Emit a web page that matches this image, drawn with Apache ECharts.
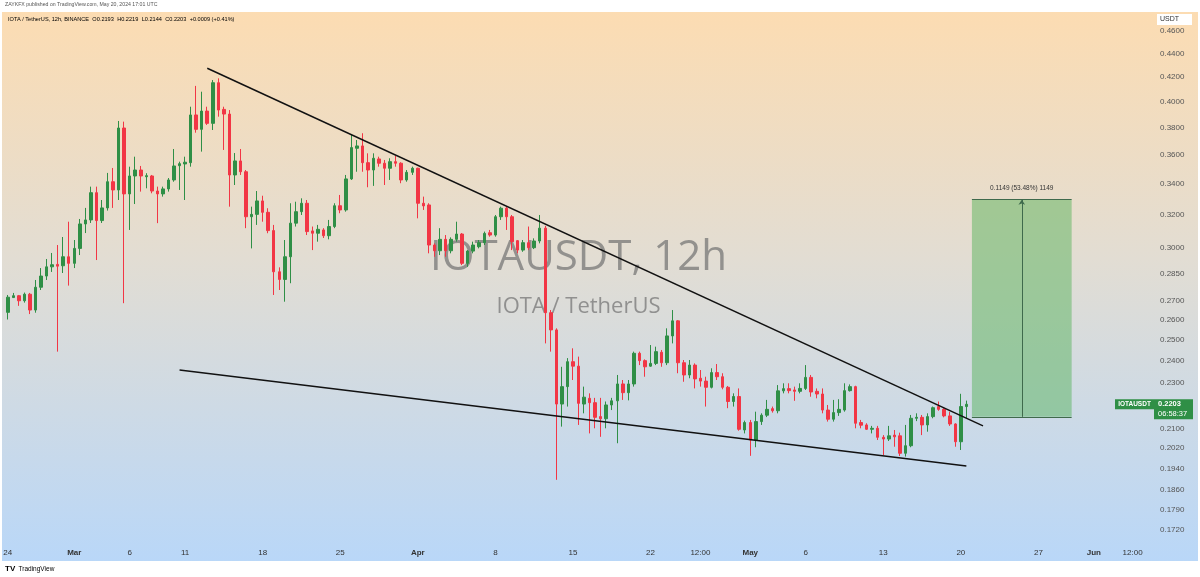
<!DOCTYPE html>
<html><head><meta charset="utf-8">
<script src="https://cdn.jsdelivr.net/npm/echarts@6/dist/echarts.min.js"></script>
<style>html,body{margin:0;padding:0;background:#fff}#c{width:1200px;height:577px}</style>
</head><body><div id="c"></div>
<script>
// ---- data (12h candles, IOTA/USDT, Binance) ----
const firstCandleUTC = Date.UTC(2024, 1, 24, 0, 0); // Feb 24 2024 00:00
const slotCount = 207; // candles + empty future slots up to early June
const open = [.2641,.2719,.2729,.2702,.2737,.2653,.2775,.2837,.2889,.2903,.2895,.2947,.2909,.2996,.3144,.3169,.3344,.3165,.3245,.3417,.3362,.3799,.3336,.3456,.3497,.3451,.3456,.3355,.3336,.3369,.3429,.3527,.3539,.3548,.3898,.3789,.3928,.3834,.4154,.3941,.3905,.3463,.3560,.3485,.3189,.3204,.3290,.3217,.3103,.2861,.2818,.2947,.3149,.3221,.3275,.3101,.3087,.3107,.3072,.3128,.3259,.3232,.3436,.3650,.3667,.3548,.3497,.3574,.3544,.3509,.3555,.3544,.3429,.3481,.3509,.3275,.3264,.3016,.2982,.3050,.2982,.3050,.3082,.2909,.2980,.3006,.3030,.3090,.3076,.3189,.3243,.3189,.3042,.2986,.3030,.3000,.3040,.3118,.2639,.2551,.2204,.2281,.2396,.2375,.2204,.2229,.2210,.2150,.2141,.2200,.2218,.2293,.2254,.2293,.2436,.2401,.2375,.2388,.2441,.2391,.2521,.2597,.2391,.2334,.2380,.2319,.2306,.2278,.2345,.2326,.2278,.2215,.2237,.2094,.2125,.2053,.2129,.2156,.2184,.2175,.2262,.2272,.2266,.2260,.2273,.2323,.2260,.2248,.2178,.2139,.2167,.2178,.2263,.2281,.2125,.2115,.2097,.2101,.2064,.2057,.2073,.2070,.2000,.2030,.2143,.2147,.2115,.2150,.2193,.2181,.2153,.2119,.2046,.2193];
const close = [.2721,.2729,.2702,.2737,.2653,.2775,.2837,.2889,.2901,.2893,.2947,.2909,.2996,.3144,.3169,.3344,.3165,.3245,.3417,.3362,.3799,.3336,.3456,.3497,.3456,.3458,.3355,.3336,.3369,.3429,.3525,.3541,.3551,.3898,.3789,.3928,.3834,.4154,.3936,.3905,.3463,.3560,.3485,.3189,.3204,.3290,.3217,.3103,.2861,.2818,.2947,.3149,.3221,.3275,.3097,.3087,.3111,.3072,.3128,.3259,.3232,.3436,.3655,.3667,.3548,.3497,.3579,.3544,.3509,.3555,.3544,.3429,.3481,.3509,.3275,.3258,.3016,.2982,.3050,.2982,.3050,.3082,.2909,.2980,.3016,.3030,.3086,.3076,.3189,.3243,.3189,.3036,.2986,.3030,.3000,.3040,.3118,.2639,.2551,.2204,.2281,.2396,.2375,.2207,.2234,.2210,.2147,.2141,.2200,.2218,.2293,.2254,.2293,.2436,.2401,.2372,.2388,.2444,.2391,.2521,.2597,.2391,.2334,.2380,.2316,.2306,.2278,.2345,.2326,.2278,.2215,.2237,.2097,.2125,.2053,.2129,.2156,.2181,.2175,.2262,.2272,.2263,.2260,.2273,.2323,.2257,.2248,.2178,.2139,.2167,.2181,.2263,.2281,.2122,.2114,.2097,.2101,.2064,.2057,.2070,.2066,.2000,.2030,.2143,.2147,.2115,.2150,.2188,.2181,.2153,.2119,.2046,.2193,.2203];
const low = [.2604,.2717,.2675,.2692,.2632,.2639,.2760,.2815,.2860,.2444,.2854,.2784,.2882,.2957,.3088,.3150,.2928,.3150,.3228,.3245,.3296,.2689,.3107,.3270,.3351,.3373,.3340,.3149,.3318,.3351,.3417,.3362,.3296,.3520,.3764,.3626,.3822,.3784,.3885,.3638,.3253,.3395,.3463,.3118,.2996,.3138,.3158,.3087,.2733,.2760,.2697,.2797,.3128,.3200,.3076,.2986,.3036,.3058,.3050,.3118,.3211,.3221,.3429,.3485,.3485,.3380,.3389,.3520,.3395,.3429,.3520,.3407,.3417,.3463,.3179,.3232,.2967,.2947,.2957,.2947,.2967,.3036,.2899,.2889,.2967,.2996,.3016,.3066,.3066,.3169,.3107,.2986,.2967,.2976,.2986,.2992,.3026,.2484,.2444,.1898,.2108,.2193,.2311,.2115,.2164,.2080,.2101,.2066,.2101,.2178,.2040,.2222,.2220,.2281,.2380,.2326,.2372,.2380,.2372,.2380,.2484,.2342,.2303,.2319,.2273,.2281,.2193,.2273,.2311,.2269,.2186,.2193,.2091,.2080,.1990,.2024,.2115,.2148,.2167,.2164,.2251,.2251,.2218,.2251,.2266,.2236,.2229,.2164,.2129,.2129,.2153,.2171,.2259,.2101,.2101,.2094,.2080,.2053,.1993,.2049,.2026,.1989,.1987,.2024,.2131,.2073,.2087,.2143,.2175,.2147,.2111,.2026,.2013,.2144];
const high = [.2733,.2744,.2733,.2746,.2744,.2815,.2882,.2934,.2969,.3016,.3064,.3158,.3046,.3175,.3245,.3384,.3384,.3296,.3477,.3511,.3852,.3847,.3520,.3590,.3525,.3475,.3463,.3384,.3384,.3442,.3645,.3555,.3590,.3962,.4128,.4081,.3962,.4176,.4190,.3962,.3936,.3616,.3645,.3497,.3253,.3355,.3324,.3243,.3138,.2886,.3046,.3275,.3285,.3307,.3296,.3128,.3138,.3118,.3169,.3275,.3329,.3463,.3747,.3710,.3760,.3614,.3614,.3590,.3567,.3579,.3595,.3551,.3497,.3520,.3513,.3318,.3275,.3026,.3118,.3076,.3062,.3158,.3088,.2986,.3036,.3046,.3097,.3107,.3200,.3253,.3253,.3200,.3046,.3046,.3128,.3056,.3200,.3132,.2653,.2559,.2372,.2413,.2460,.2420,.2281,.2251,.2231,.2231,.2215,.2231,.2334,.2311,.2311,.2444,.2444,.2407,.2476,.2468,.2452,.2559,.2653,.2601,.2404,.2404,.2388,.2357,.2326,.2365,.2385,.2342,.2284,.2251,.2273,.2133,.2136,.2171,.2164,.2222,.2193,.2288,.2296,.2296,.2281,.2296,.2380,.2334,.2273,.2273,.2200,.2222,.2225,.2296,.2291,.2285,.2136,.2122,.2111,.2111,.2073,.2111,.2094,.2083,.2115,.2157,.2164,.2157,.2164,.2193,.2215,.2186,.2171,.2122,.2249,.2219];

const yTickValues = [0.46, 0.44, 0.42, 0.40, 0.38, 0.36, 0.34, 0.32, 0.30, 0.285, 0.27, 0.26, 0.25, 0.24, 0.23, 0.21, 0.202, 0.194, 0.186, 0.179, 0.172];
const xTickDates = ['2024-02-24 00:00','2024-03-01 00:00','2024-03-06 00:00','2024-03-11 00:00','2024-03-18 00:00','2024-03-25 00:00','2024-04-01 00:00','2024-04-08 00:00','2024-04-15 00:00','2024-04-22 00:00','2024-04-26 12:00','2024-05-01 00:00','2024-05-06 00:00','2024-05-13 00:00','2024-05-20 00:00','2024-05-27 00:00','2024-06-01 00:00','2024-06-04 12:00'];
const xTickTexts = ['24','Mar','6','11','18','25','Apr','8','15','22','12:00','May','6','13','20','27','Jun','12:00'];
const xTickBold = ['Mar','Apr','May','Jun'];

// drawings (category index, price)
const upperTrend = [[36, 0.4274], [176, 0.2111]];
const lowerTrend = [[31, 0.2357], [173, 0.1950]];
const measureFrom = 174, measureTo = 192, measureMid = 183;
const measureLow = 0.2149, measureHigh = 0.3298;
const measureText = '0.1149 (53.48%) 1149';
const lastPrice = 0.2203, countdown = '06:58:37';

// ---- build ----
const categories = [];
for (let i = 0; i < slotCount; i++) {
  const d = new Date(firstCandleUTC + i * 12 * 3600 * 1000);
  categories.push(d.toISOString().slice(0, 16).replace('T', ' '));
}
const candleData = open.map((o, i) => [o, close[i], low[i], high[i]]);
const xLabelMap = {};
xTickDates.forEach((d, i) => xLabelMap[d] = xTickTexts[i]);

const UP = '#2f8f46', DOWN = '#f23645';
const G = { left: 5, right: 48, top: 14, bottom: 32 };
const W = 1200, H = 577;
const plotCx = (G.left + (W - G.right)) / 2;
const FONT = '"Liberation Sans", Arial, sans-serif';

const chart = echarts.init(document.getElementById('c'));
const option = {
  animation: false,
  backgroundColor: '#ffffff',
  grid: G,
  xAxis: {
    type: 'category', data: categories, boundaryGap: true,
    axisLine: { show: false }, axisTick: { show: false }, splitLine: { show: false },
    axisLabel: {
      interval: (i, v) => xLabelMap[v] !== undefined,
      formatter: v => { const t = xLabelMap[v] || ''; return xTickBold.includes(t) ? '{b|' + t + '}' : t; },
      fontSize: 8, color: '#333', fontFamily: FONT, margin: 4,
      rich: { b: { fontSize: 8, fontWeight: 'bold', color: '#333', fontFamily: FONT } }
    }
  },
  yAxis: {
    type: 'log', logBase: 10, min: 0.1669, max: 0.4757,
    axisLine: { show: false }, axisTick: { show: false }, axisLabel: { show: false }, splitLine: { show: false }
  },
  graphic: { elements: [
    { type: 'rect', id: 'bg', z: -10, silent: true, shape: { x: 2, y: 12, width: 1196, height: 549 },
      style: { fill: new echarts.graphic.LinearGradient(0, 0, 0, 1, [
        { offset: 0, color: '#fcdcb2' }, { offset: 0.45, color: '#e2ddd3' }, { offset: 1, color: '#b9d7f8' }]) } },
    { type: 'text', id: 'wm1', z: 0, silent: true, x: plotCx, y: 258,
      style: { text: 'IOTAUSDT, 12h', fontSize: 42, fontFamily: '"Open Sans", sans-serif', fill: 'rgba(115,115,115,0.72)', align: 'center', verticalAlign: 'middle' } },
    { type: 'text', id: 'wm2', z: 0, silent: true, x: plotCx, y: 307,
      style: { text: 'IOTA / TetherUS', fontSize: 22, fontFamily: '"Open Sans", sans-serif', fill: 'rgba(115,115,115,0.72)', align: 'center', verticalAlign: 'middle' } },
    { type: 'text', id: 'pub', z: 20, x: 5, y: 5,
      style: { text: 'ZAYKFX published on TradingView.com, May 20, 2024 17:01 UTC', fontSize: 5.2, fontFamily: FONT, fill: '#555', verticalAlign: 'middle' } },
    { type: 'text', id: 'legend', z: 20, x: 8, y: 19,
      style: { text: '{n|IOTA / TetherUS, 12h, BINANCE} {n|O}{g|0.2193} {n|H}{g|0.2219} {n|L}{g|0.2144} {n|C}{g|0.2203} {g|+0.0009 (+0.41%)}',
        verticalAlign: 'middle',
        rich: { n: { fontSize: 5.6, fontFamily: FONT, color: '#333' }, g: { fontSize: 5.6, fontFamily: FONT, color: '#2e8b3e' } } } },
    { type: 'text', id: 'tvlogo', z: 20, x: 5, y: 569,
      style: { text: '{i|TV} {t|TradingView}', verticalAlign: 'middle',
        rich: { i: { fontSize: 8, fontWeight: 'bold', fontFamily: FONT, color: '#222' }, t: { fontSize: 6.5, fontFamily: FONT, color: '#555' } } } }
  ] },
  series: [
    {
      name: 'IOTAUSDT', type: 'candlestick', data: candleData, barWidth: 3, z: 3,
      itemStyle: { color: UP, color0: DOWN, borderColor: UP, borderColor0: DOWN, borderWidth: 1 },
      markArea: {
        silent: true,
        itemStyle: { color: 'rgba(76,175,80,0.45)' },
        label: { show: true, position: 'top', distance: 8, formatter: measureText, fontSize: 6.5, color: '#333', fontFamily: FONT },
        data: [[{ coord: [categories[measureFrom], measureHigh] }, { coord: [categories[measureTo], measureLow] }]]
      },
      markLine: {
        silent: true, symbol: ['none', 'none'], label: { show: false },
        lineStyle: { color: '#3f6a4c', width: 1, type: 'solid' },
        data: [
          [{ coord: [categories[measureFrom], measureHigh] }, { coord: [categories[measureTo], measureHigh] }],
          [{ coord: [categories[measureFrom], measureLow] }, { coord: [categories[measureTo], measureLow] }],
          [{ coord: [categories[measureMid], measureLow], symbol: 'none' }, { coord: [categories[measureMid], measureHigh], symbol: 'arrow', symbolSize: [5, 5] }]
        ]
      }
    },
    { name: 'upper', type: 'line', z: 5, silent: true, symbol: 'none',
      data: upperTrend.map(p => [categories[p[0]], p[1]]), lineStyle: { color: '#111', width: 1.5 } },
    { name: 'lower', type: 'line', z: 5, silent: true, symbol: 'none',
      data: lowerTrend.map(p => [categories[p[0]], p[1]]), lineStyle: { color: '#111', width: 1.5 } }
  ]
};
chart.setOption(option);

// price-scale labels placed through the y axis scale
const yPx = v => chart.convertToPixel({ yAxisIndex: 0 }, v);
const extra = yTickValues.map((v, i) => ({
  type: 'text', id: 'yt' + i, z: 10, x: 1160, y: yPx(v),
  style: { text: v.toFixed(4), fontSize: 8, fontFamily: FONT, fill: '#555', verticalAlign: 'middle' }
}));
const py = yPx(lastPrice);
extra.push(
  { type: 'rect', id: 'usdtBox', z: 15, shape: { x: 1157, y: 14, width: 35, height: 11 }, style: { fill: '#ffffff' } },
  { type: 'text', id: 'usdtTxt', z: 16, x: 1160, y: 19.5, style: { text: 'USDT', fontSize: 7, fontFamily: FONT, fill: '#333', verticalAlign: 'middle' } },
  { type: 'rect', id: 'tagName', z: 15, shape: { x: 1115, y: py - 5, width: 39, height: 10 }, style: { fill: UP } },
  { type: 'text', id: 'tagNameTxt', z: 16, x: 1134.5, y: py, style: { text: 'IOTAUSDT', fontSize: 6.5, fontWeight: 'bold', fontFamily: FONT, fill: '#fff', align: 'center', verticalAlign: 'middle' } },
  { type: 'rect', id: 'tagVal', z: 15, shape: { x: 1154, y: py - 5, width: 39, height: 20 }, style: { fill: UP } },
  { type: 'text', id: 'tagValTxt', z: 16, x: 1158, y: py, style: { text: lastPrice.toFixed(4), fontSize: 7.5, fontWeight: 'bold', fontFamily: FONT, fill: '#fff', verticalAlign: 'middle' } },
  { type: 'text', id: 'tagCd', z: 16, x: 1158, y: py + 9.5, style: { text: countdown, fontSize: 7.5, fontFamily: FONT, fill: '#fff', verticalAlign: 'middle' } }
);
chart.setOption({ graphic: { elements: extra } });
</script></body></html>
